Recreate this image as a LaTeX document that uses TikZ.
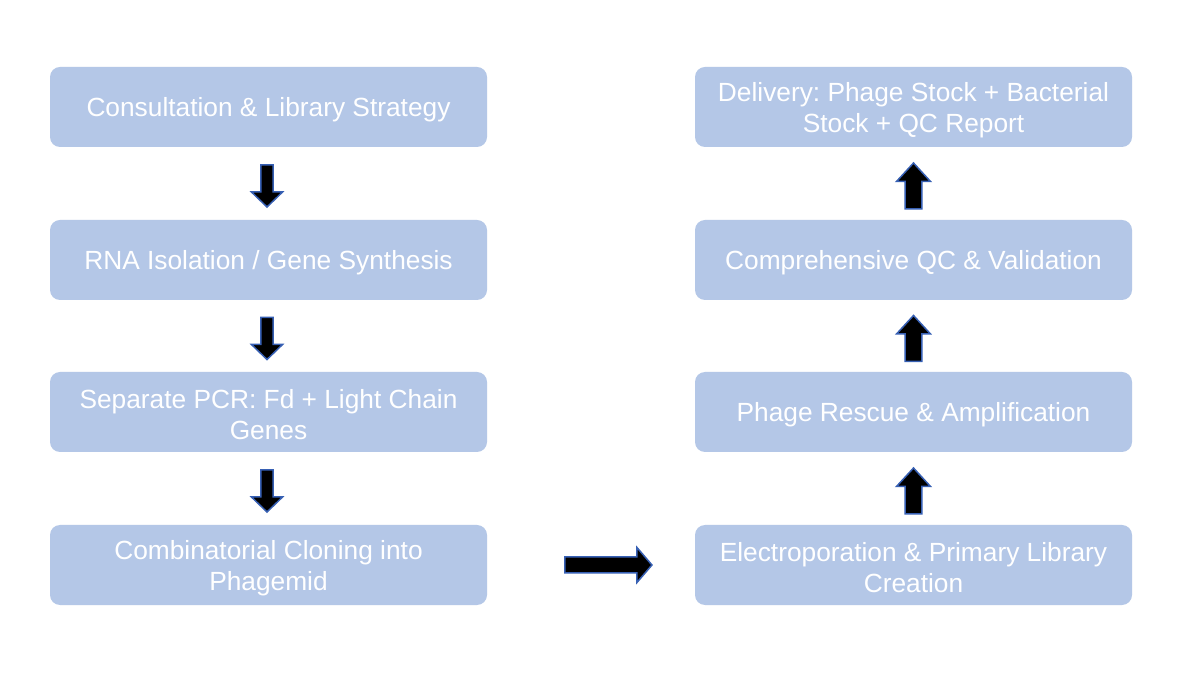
\documentclass[tikz,border=0pt]{standalone}
\usepackage{fontspec}
\setmainfont{Liberation Sans}
\usetikzlibrary{calc}
\frenchspacing
\definecolor{boxfill}{RGB}{180,199,231}
\definecolor{arrowedge}{RGB}{55,96,180}
\tikzset{
  stepbox/.style={rectangle, rounded corners=10pt, fill=boxfill, draw=none,
    minimum width=437pt, minimum height=80pt, inner sep=0pt},
  steptext/.style={inner sep=0pt, align=center, text=white,
    font=\fontsize{26.3}{31}\selectfont},
  arrowsty/.style={fill=black, draw=arrowedge, line width=1.5pt, line join=miter},
  downarrow/.pic={\path[arrowsty] (-21,-6.2) -- (6,-6.2) -- (6,-15.5) -- (21,0) -- (6,15.5) -- (6,6.2) -- (-21,6.2) -- cycle;},
  uparrow/.pic={\path[arrowsty] (-23,-8.3) -- (4.5,-8.3) -- (4.5,-17) -- (23,0) -- (4.5,17) -- (4.5,8.3) -- (-23,8.3) -- cycle;},
  rightarrow/.pic={\path[arrowsty] (-43.5,-8) -- (28.5,-8) -- (28.5,-17.5) -- (43.5,0) -- (28.5,17.5) -- (28.5,8) -- (-43.5,8) -- cycle;}
}
\begin{document}
\begin{tikzpicture}[x=1pt,y=1pt]
\path[fill=white] (0,0) rectangle (1188,688);
\useasboundingbox (0,0) rectangle (1188,688);
\node[stepbox] (l1) at (268.5,581) {};
\node[stepbox] (l2) at (268.5,428) {};
\node[stepbox] (l3) at (268.5,276) {};
\node[stepbox] (l4) at (268.5,123) {};
\node[stepbox] (r1) at (913.5,581) {};
\node[stepbox] (r2) at (913.5,428) {};
\node[stepbox] (r3) at (913.5,276) {};
\node[stepbox] (r4) at (913.5,123) {};
\node[steptext] (tl1) at ([yshift=-3pt]l1.center) {Consultation \& Library Strategy};
\node[steptext] (tl2) at ([yshift=-3pt]l2.center) {RNA Isolation / Gene Synthesis};
\node[steptext] (tl3) at ([yshift=-3pt]l3.center) {Separate PCR: Fd + Light Chain\\Genes};
\node[steptext] (tl4) at ([yshift=-3pt]l4.center) {Combinatorial Cloning into\\Phagemid};
\node[steptext] (tr1) at ([yshift=-3pt]r1.center) {Delivery: Phage Stock + Bacterial\\Stock + QC Report};
\node[steptext] (tr2) at ([yshift=-3pt]r2.center) {Comprehensive QC \& Validation};
\node[steptext] (tr3) at ([yshift=-3pt]r3.center) {Phage Rescue \& Amplification};
\node[steptext] (tr4) at ([yshift=-3pt]r4.center) {Electroporation \& Primary Library\\Creation};
\pic[rotate=-90] at ($(l1.south)!0.5!(l2.north)+(-1.5,-2.5)$) {downarrow};
\pic[rotate=-90] at ($(l2.south)!0.5!(l3.north)+(-1.5,-2.5)$) {downarrow};
\pic[rotate=-90] at ($(l3.south)!0.5!(l4.north)+(-1.5,-2.5)$) {downarrow};
\pic[rotate=90] at ($(r4.north)!0.5!(r3.south)+(0,-2.5)$) {uparrow};
\pic[rotate=90] at ($(r3.north)!0.5!(r2.south)+(0,-2.5)$) {uparrow};
\pic[rotate=90] at ($(r2.north)!0.5!(r1.south)+(0,-2.5)$) {uparrow};
\pic at ($(l4.east)!0.584!(r4.west)$) {rightarrow};
\end{tikzpicture}
\end{document}
